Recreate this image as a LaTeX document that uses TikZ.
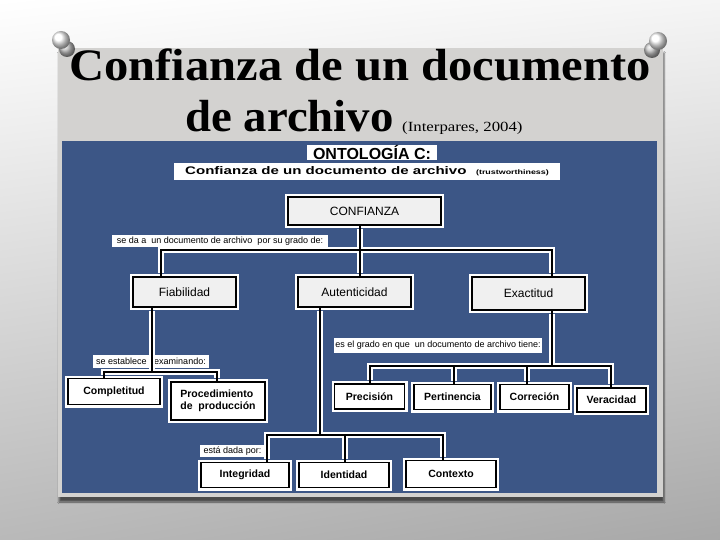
\documentclass[tikz,border=0pt]{standalone}
\usepackage{fontspec}
\setmainfont{Liberation Serif}
\setsansfont{Liberation Sans}
\usetikzlibrary{shadings,shadows.blur}
\definecolor{slideblue}{RGB}{60,86,134}
\definecolor{panelgray}{RGB}{211,210,208}

\begin{document}
\begin{tikzpicture}[x=1pt, y=-1pt,
    mainbox/.style={rectangle, draw=black, line width=1.3pt, fill=gray!12, preaction={draw=white, line width=6pt}, inner sep=1pt, font=\sffamily\fontsize{12}{14}\selectfont},
    leafbox/.style={mainbox, fill=white, font=\sffamily\bfseries\fontsize{10.5}{12.5}\selectfont},
    tag/.style={rectangle, fill=white, inner sep=1pt, font=\sffamily\fontsize{9}{10}\selectfont},
    headline/.style={inner sep=0pt, font=\bfseries\fontsize{45}{50}\selectfont},
    halo/.style={draw=white, line width=6pt, shorten <=3pt, shorten >=3pt},
    link/.style={draw=black, line width=1.5pt}]

    \useasboundingbox (0,0) rectangle (720,540);
    \shade[upper left=white, upper right=gray!8, lower left=gray!55, lower right=gray!68] (0,0) rectangle (720,540);
    \fill[panelgray, blur shadow={shadow xshift=1pt, shadow yshift=-5pt, shadow opacity=60}] (58,48) rectangle (663,497);
    \fill[slideblue] (62,141) rectangle (657,493);

    \node[headline, anchor=base] (title1) at (360,81) {\scalebox{1.08}[1]{Confianza de un documento}};
    \node[headline, anchor=base west] (title2) at (185,132) {\scalebox{1.04}[1]{de archivo}};
    \node[anchor=base west, inner sep=0pt, font=\fontsize{14}{16}\selectfont] (cite) at (402,132) {\scalebox{1.2}[1]{(Interpares, 2004)}};

    \node[fill=white, minimum width=130, minimum height=15, inner sep=0pt, font=\sffamily\bfseries\fontsize{16}{16}\selectfont] (ontol) at (372,152.5) {ONTOLOGÍA C:};
    \node[fill=white, minimum width=386, minimum height=17, inner sep=0pt] (banner) at (367,171.5) {\scalebox{1.37}[1]{\sffamily\bfseries\fontsize{11}{12}\selectfont Confianza de un documento de archivo\hspace{7pt}{\fontsize{6.5}{7}\selectfont (trustworthiness)}}};

    \node[mainbox, minimum width=153, minimum height=28] (conf) at (364.5,211) {CONFIANZA};
    \node[mainbox, minimum width=103, minimum height=30] (fiab) at (184.5,292) {Fiabilidad};
    \node[mainbox, minimum width=113, minimum height=30] (aut) at (354.5,292) {Autenticidad};
    \node[mainbox, minimum width=113, minimum height=33] (exac) at (528.5,293.5) {Exactitud};

    \node[leafbox, minimum width=92, minimum height=26] (compl) at (114,391.5) {Completitud};
    \node[leafbox, minimum width=94, minimum height=38, align=left] (proc) at (218,401) {Procedimiento\\de\ \ producción};
    \node[leafbox, minimum width=70, minimum height=25] (prec) at (369.5,396.5) {Precisión};
    \node[leafbox, minimum width=77, minimum height=25] (pert) at (452.5,397) {Pertinencia};
    \node[leafbox, minimum width=69, minimum height=25] (corr) at (534.5,397) {Correción};
    \node[leafbox, minimum width=69, minimum height=24] (verac) at (611.5,400) {Veracidad};
    \node[leafbox, minimum width=88, minimum height=25] (integ) at (245,475) {Integridad};
    \node[leafbox, minimum width=90, minimum height=25] (ident) at (344,475) {Identidad};
    \node[leafbox, minimum width=90, minimum height=27] (cont) at (451,474) {Contexto};

    \node[tag, minimum width=216, minimum height=12] (gradode) at (220,241) {se da a\ \ un documento de archivo\ \ por su grado de:};
    \node[tag, minimum width=116, minimum height=13] (examina) at (151,361) {se establece\ \ \ examinando:};
    \node[tag, minimum width=208, minimum height=15] (tiene) at (438,345.5) {es el grado en que\ \ un documento de archivo tiene:};
    \node[tag, minimum width=65, minimum height=12] (dada) at (232.5,451) {está dada por:};

    \coordinate (b1L) at (161,250);
    \coordinate (b1M) at (360,250);
    \coordinate (b1R) at (552,250);
    \coordinate (b2) at (152,372);
    \coordinate (b2L) at (104,372);
    \coordinate (b2R) at (217,372);
    \coordinate (b3) at (320,435);
    \coordinate (b3L) at (267,435);
    \coordinate (b3M) at (345,435);
    \coordinate (b3R) at (443,435);
    \coordinate (b4) at (552,366);
    \coordinate (b4L) at (370,366);
    \coordinate (b4a) at (454,366);
    \coordinate (b4b) at (527,366);
    \coordinate (b4R) at (611,366);

    \foreach \s in {halo,link} {
        \draw[\s] (conf.south -| b1M) -- (aut.north -| b1M);
        \draw[\s] (fiab.north -| b1L) -- (b1L) -- (b1R) -- (exac.north -| b1R);
        \draw[\s] (fiab.south -| b2) -- (b2);
        \draw[\s] (compl.north -| b2L) -- (b2L) -- (b2R) -- (proc.north -| b2R);
        \draw[\s] (aut.south -| b3) -- (b3);
        \draw[\s] (integ.north -| b3L) -- (b3L) -- (b3R) -- (cont.north -| b3R);
        \draw[\s] (b3M) -- (ident.north -| b3M);
        \draw[\s] (exac.south -| b4) -- (b4);
        \draw[\s] (prec.north -| b4L) -- (b4L) -- (b4R) -- (verac.north -| b4R);
        \draw[\s] (b4a) -- (pert.north -| b4a);
        \draw[\s] (b4b) -- (corr.north -| b4b);
    }

    \shade[ball color=gray!45] (67,49) circle (8);
    \shade[ball color=white] (61,40) circle (9);
    \shade[ball color=gray!45] (652,50) circle (8);
    \shade[ball color=white] (658,41) circle (9);

\end{tikzpicture}
\end{document}
